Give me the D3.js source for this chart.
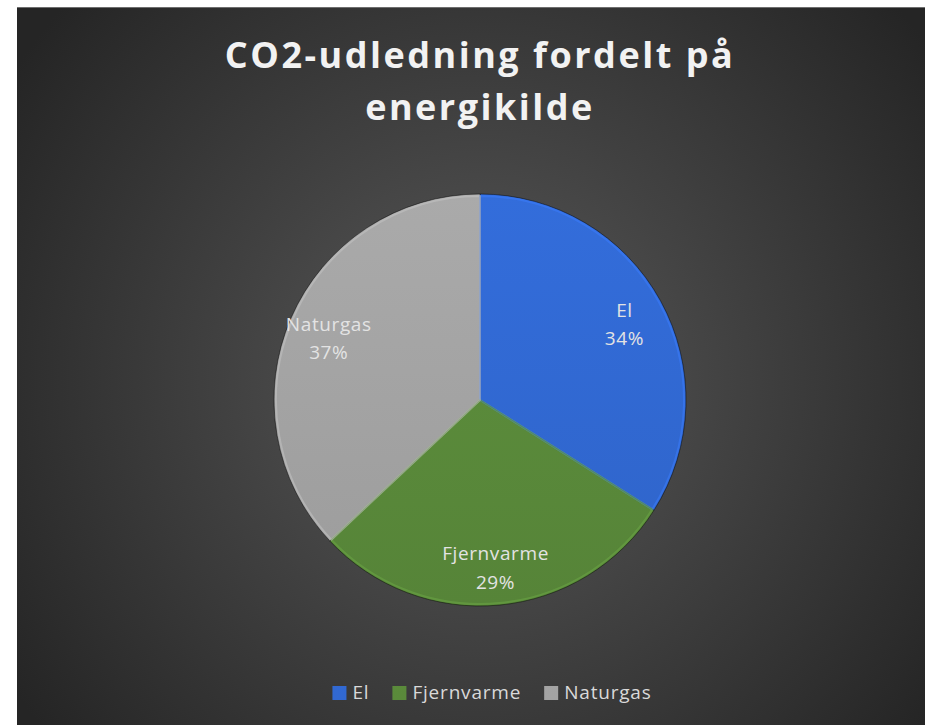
<!DOCTYPE html>
<html>
<head>
<meta charset="utf-8">
<script src="https://cdn.jsdelivr.net/npm/d3@7"></script>
<style>
  html, body { margin: 0; padding: 0; background: #ffffff; }
  svg { display: block; }
</style>
</head>
<body>
<svg id="chart" width="925" height="725"></svg>
<script>
// Data
const categories = ["El", "Fjernvarme", "Naturgas"];
const shares = [34, 29, 37];
const sliceColors = ["#3168d2", "#5a8a3a", "#a3a3a3"];
const titleLines = ["CO2-udledning fordelt på", "energikilde"];

const data = categories.map((c, i) => ({ name: c, value: shares[i], color: sliceColors[i] }));

const W = 925, H = 725;
const frame = { left: 17, top: 7 };
const cx = 480, cy = 400, R = 206;

const svg = d3.select("#chart");
const defs = svg.append("defs");

// Background radial gradient
const bg = defs.append("radialGradient")
  .attr("id", "bg")
  .attr("gradientUnits", "userSpaceOnUse")
  .attr("cx", cx).attr("cy", cy - 20).attr("r", 560);
bg.append("stop").attr("offset", "0%").attr("stop-color", "#595959");
bg.append("stop").attr("offset", "100%").attr("stop-color", "#252525");

svg.append("rect")
  .attr("x", frame.left).attr("y", frame.top)
  .attr("width", W - frame.left).attr("height", H - frame.top)
  .attr("fill", "url(#bg)");
svg.append("line")
  .attr("x1", frame.left).attr("x2", W)
  .attr("y1", frame.top + 0.5).attr("y2", frame.top + 0.5)
  .attr("stroke", "#6e6e6e").attr("stroke-width", 1);

// Slice gradients (slightly lighter top, darker bottom)
data.forEach((d, i) => {
  const c = d3.color(d.color);
  const g = defs.append("linearGradient")
    .attr("id", "sg" + i)
    .attr("gradientUnits", "userSpaceOnUse")
    .attr("x1", 0).attr("y1", -R).attr("x2", 0).attr("y2", R);
  g.append("stop").attr("offset", "0%").attr("stop-color", c.brighter(0.12));
  g.append("stop").attr("offset", "100%").attr("stop-color", c.darker(0.12));
});

// Title
const title = svg.append("text")
  .attr("x", cx).attr("y", 68)
  .attr("text-anchor", "middle")
  .attr("fill", "#f2f2f2")
  .style("font-family", "'Open Sans', sans-serif")
  .style("font-weight", "bold")
  .style("font-size", "36px")
  .style("letter-spacing", "2.5px");
title.selectAll("tspan")
  .data(titleLines)
  .enter().append("tspan")
  .attr("x", cx)
  .attr("dy", (d, i) => i === 0 ? 0 : 52)
  .text(d => d);

// Pie
const pie = d3.pie().value(d => d.value).sort(null);
const arc = d3.arc().innerRadius(0).outerRadius(R);
const edgeArc = d3.arc().innerRadius(0).outerRadius(R - 2);
const labelArc = d3.arc().innerRadius(R * 0.8).outerRadius(R * 0.8);

const g = svg.append("g").attr("transform", `translate(${cx},${cy})`);
const arcs = pie(data);

// slice bodies
g.selectAll("path.slice")
  .data(arcs)
  .enter().append("path")
  .attr("class", "slice")
  .attr("d", arc)
  .attr("fill", (d, i) => `url(#sg${i})`)
  .attr("stroke", "rgba(0,0,0,0.45)")
  .attr("stroke-width", 1);

// soft bevel highlight just inside each edge
g.selectAll("path.bevel")
  .data(arcs)
  .enter().append("path")
  .attr("class", "bevel")
  .attr("d", edgeArc)
  .attr("fill", "none")
  .attr("stroke", (d, i) => d3.color(sliceColors[i]).brighter(0.5))
  .attr("stroke-opacity", 0.55)
  .attr("stroke-width", 2)
  .attr("stroke-linejoin", "round");

// Data labels
const labels = g.selectAll("text.label")
  .data(arcs)
  .enter().append("text")
  .attr("class", "label")
  .attr("transform", d => `translate(${labelArc.centroid(d)})`)
  .attr("text-anchor", "middle")
  .attr("fill", "#e3e3e3")
  .style("font-family", "'Open Sans', sans-serif")
  .style("font-size", "19px")
  .style("letter-spacing", "0.6px");
labels.append("tspan").attr("x", 0).attr("dy", "-0.2em").text(d => d.data.name);
labels.append("tspan").attr("x", 0).attr("dy", "1.5em").text(d => d.data.value + "%");

// Legend
const legend = svg.append("g").attr("class", "legend");
const items = legend.selectAll("g.item")
  .data(data)
  .enter().append("g").attr("class", "item");
items.append("rect")
  .attr("width", 14).attr("height", 14)
  .attr("y", -13)
  .attr("fill", (d, i) => `url(#sg${i})`);
items.append("text")
  .attr("x", 20)
  .attr("fill", "#d9d9d9")
  .style("font-family", "'Open Sans', sans-serif")
  .style("font-size", "19px")
  .style("letter-spacing", "0.8px")
  .text(d => d.name);

let lx = 0;
items.each(function () {
  d3.select(this).attr("transform", `translate(${lx},0)`);
  lx += this.getBBox().width + 23;
});
const legendW = lx - 23;
legend.attr("transform", `translate(${cx + 12 - legendW / 2},${699})`);
</script>
</body>
</html>
